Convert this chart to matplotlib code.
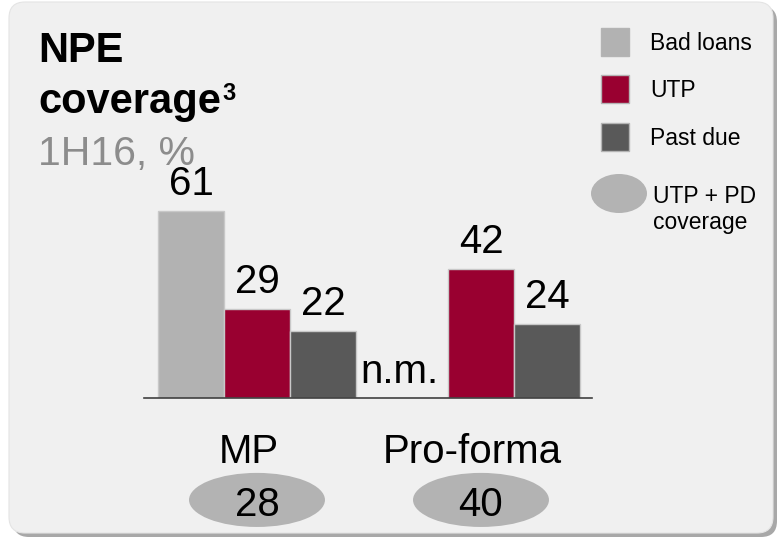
import numpy as np
import matplotlib
matplotlib.use("Agg")
import matplotlib.pyplot as plt
from matplotlib.patches import FancyBboxPatch, Rectangle, Ellipse

plt.rcParams['font.family'] = ['Liberation Sans', 'DejaVu Sans']

# data
groups = ['MP', 'Pro-forma']
series = ['Bad loans', 'UTP', 'Past due']
bad_loans = [61, np.nan]          # n.m. for Pro-forma
utp = [29, 42]
past_due = [22, 24]
utp_pd_coverage = [28, 40]

colors = ['#B2B2B2', '#990030', '#595959']
W, H = 779, 538

fig = plt.figure(figsize=(W / 100, H / 100), dpi=100)

# background in pixel coords
bg = fig.add_axes([0, 0, 1, 1], zorder=0)
bg.set_xlim(0, W)
bg.set_ylim(H, 0)
bg.axis('off')
bg.add_patch(FancyBboxPatch((13, 6), 764, 531, boxstyle="round,pad=0,rounding_size=16",
                            facecolor='#A8A8A8', edgecolor='none'))
bg.add_patch(FancyBboxPatch((9, 2), 764, 531, boxstyle="round,pad=0,rounding_size=16",
                            facecolor='#F0F0F0', edgecolor='#E4E4E4', linewidth=0.8))

# title
bg.text(38, 62, 'NPE', fontsize=30, fontweight='bold', va='baseline', ha='left')
cov_txt = bg.text(38, 113, 'coverage', fontsize=30, fontweight='bold', va='baseline', ha='left')
bg.text(38, 165, '1H16, %', fontsize=29.5, color='#8C8C8C', va='baseline', ha='left')
fig.canvas.draw()
bb = cov_txt.get_window_extent()
bg.text(bb.x1 + 2, 100, '3', fontsize=17, fontweight='bold', va='baseline', ha='left')

# legend
for i, (name, c) in enumerate(zip(series, colors)):
    yc = 42 + i * 47.3
    bg.add_patch(Rectangle((601, yc - 14), 28, 28, facecolor=c, edgecolor='#B4B4B4', linewidth=1))
    bg.text(650, yc + 8, name, fontsize=16.5, va='baseline', ha='left')
bg.add_patch(Ellipse((619, 193.5), 56, 39, facecolor='#B3B3B3', edgecolor='none'))
bg.text(653, 203, 'UTP + PD', fontsize=16.5, va='baseline', ha='left')
bg.text(653, 229, 'coverage', fontsize=16.5, va='baseline', ha='left')

# bars
ax = fig.add_axes([144 / W, (H - 398) / H, 448 / W, 248 / H], zorder=1)
ax.patch.set_alpha(0)
x = np.array([0, 3.394])
values = [bad_loans, utp, past_due]
for i, (vals, c) in enumerate(zip(values, colors)):
    xs = x + (i - 1)
    hs = np.nan_to_num(np.array(vals, dtype=float))
    ax.bar(xs, hs, width=1.0, color=c, edgecolor='#C8C8C8', linewidth=1)
    for xi, v in zip(xs, vals):
        if np.isnan(v):
            ax.annotate('n.m.', (xi, 0), xytext=(-11, 11), textcoords='offset points',
                        ha='center', va='baseline', fontsize=29)
        else:
            ax.annotate(f'{v:g}', (xi, v), xytext=(0, 11.5), textcoords='offset points',
                        ha='center', va='baseline', fontsize=29)

ax.set_xlim(-1.712, 5.076)
ax.set_ylim(0, 80.9)
for s in ['top', 'left', 'right']:
    ax.spines[s].set_visible(False)
ax.spines['bottom'].set_color('#404040')
ax.spines['bottom'].set_linewidth(1.2)
ax.set_xticks([])
ax.set_yticks([])

# group labels and coverage ellipses
for xi, g, cov in zip(x, groups, utp_pd_coverage):
    ax.annotate(g, (xi, -0.262), xycoords=('data', 'axes fraction'), xytext=(-6, 0),
                textcoords='offset points', ha='center', va='baseline', fontsize=29,
                annotation_clip=False)
    e = Ellipse((xi, -0.411), 2.06, 0.218, facecolor='#B3B3B3', edgecolor='none',
                transform=ax.get_xaxis_transform(), clip_on=False)
    ax.add_patch(e)
    ax.annotate(f'{cov}', (xi, -0.476), xycoords=('data', 'axes fraction'),
                ha='center', va='baseline', fontsize=29, annotation_clip=False)

fig.savefig('out.png', dpi=100)
